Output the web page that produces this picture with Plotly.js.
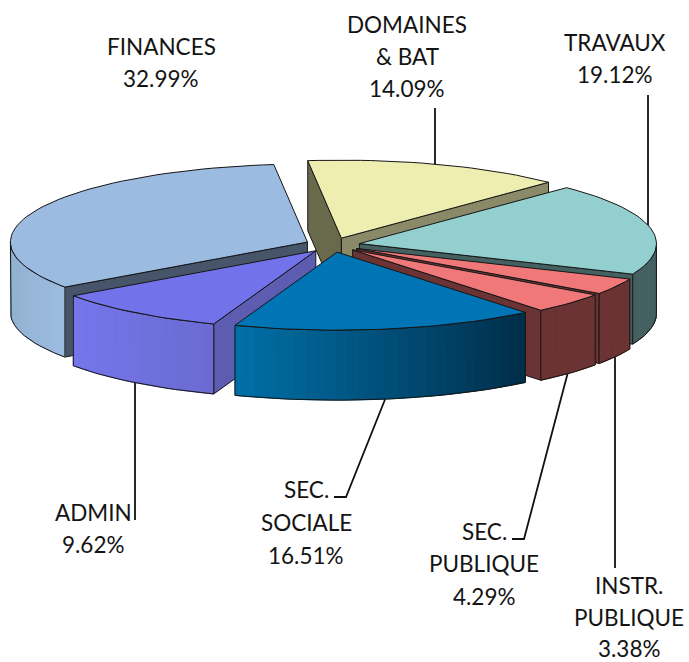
<!DOCTYPE html>
<html>
<head>
<meta charset="utf-8">
<script src="https://cdn.plot.ly/plotly-3.0.1.min.js"></script>
<style>html,body{margin:0;padding:0;background:#fff}#chart{width:689px;height:662px}</style>
</head>
<body>
<div id="chart"></div>
<script>
// Data, in drawing order clockwise from the back of the pie
var names = ['DOMAINES & BAT', 'TRAVAUX', 'INSTR. PUBLIQUE', 'SEC. PUBLIQUE', 'SEC. SOCIALE', 'ADMIN', 'FINANCES'];
var shares = [14.09, 19.12, 3.38, 4.29, 16.51, 9.62, 32.99];

// Colours per slice
var topColors = ['#EEEEB0', '#92CFCE', '#F07878', '#F07878', '#0075B5', '#7272EA', '#9BBBE0'];
var wallStops = [
  ['#8a8a68', '#8a8a68'],
  ['#446060', '#446060'],
  ['#6b3333', '#6b3333'],
  ['#6b3333', '#6b3333'],
  ['#002c48', '#0070A8'],
  ['#6B6BD2', '#7676EC'],
  ['#9BBBE0', '#8FAECB']
];
var startWallColors = ['#696A4C', '#446060', '#6b3333', '#6b3333', '#005a8a', '#5C5CB0', '#46556A'];
var endWallColors = ['#8A8A68', '#446060', '#6b3333', '#6b3333', '#6b3333', '#5C5CB0', '#46556A'];

// Draw order, back to front
var drawOrder = [0, 6, 1, 2, 3, 5, 4];

// Label text lines and where each sits
var labelLines = ['FINANCES','32.99%','DOMAINES','& BAT','14.09%','TRAVAUX','19.12%','ADMIN','9.62%',
  'SEC.','SOCIALE','16.51%','SEC.','PUBLIQUE','4.29%','INSTR.','PUBLIQUE','3.38%'];
var labelX = [161,161,407,407,407,615,615,93,93,306,306,306,484,484,484,629,629,629];
var labelY = [46,78,24,56,88,42,74,512,544,489,522,555,531,563,596,585,617,648];

// Leader lines
var leaderX = [[435,435],[648,648],[615,615],[568,524,512],[386,346,334],[135,135]];
var leaderY = [[108,166],[95,226],[355,568],[372,539,539],[397,497,497],[382,520]];

// Projection
var CX = 332.5, CY = 245, RX = 297, RY = 78, DEPTH = 70, EXPLODE = 0.0925, START = -6.5;

function rad(d) { return d * Math.PI / 180; }
function px(c, r, a) { return c + RX * r * Math.sin(rad(a)); }
function py(c, r, a) { return c - RY * r * Math.cos(rad(a)); }
function hex(c) { return [1, 3, 5].map(function (i) { return parseInt(c.substr(i, 2), 16); }); }
function mix(a, b, t) {
  var A = hex(a), B = hex(b);
  return 'rgb(' + A.map(function (v, i) { return Math.round(v + (B[i] - v) * t); }).join(',') + ')';
}

var traces = [];
function poly(xs, ys, fill, edge, text) {
  traces.push({
    type: 'scatter', mode: 'lines', x: xs, y: ys, fill: fill ? 'toself' : 'none',
    fillcolor: fill || undefined, line: edge, showlegend: false,
    hoverinfo: text ? 'text' : 'skip', text: text || undefined, hoveron: text ? 'fills' : undefined
  });
}

// Leaders first, beneath the pie
leaderX.forEach(function (xs, i) {
  traces.push({ type: 'scatter', mode: 'lines', x: xs, y: leaderY[i], showlegend: false, hoverinfo: 'skip',
    line: { color: '#111111', width: 1.8 } });
});

var EDGE = { color: '#161616', width: 1 };
var total = shares.reduce(function (a, b) { return a + b; }, 0);
var angles = [], running = START;
shares.forEach(function (s) {
  var span = s / total * 360;
  angles.push([running, running + span]);
  running += span;
});

function arc(cx, cy, a0, a1) {
  var n = Math.max(4, Math.round((a1 - a0) / 2)), xs = [], ys = [];
  for (var k = 0; k <= n; k++) {
    var a = a0 + (a1 - a0) * k / n;
    xs.push(px(cx, 1, a));
    ys.push(py(cy, 1, a));
  }
  return { x: xs, y: ys, n: n };
}
function radialWall(cx, cy, a, color) {
  var ex = px(cx, 1, a), ey = py(cy, 1, a);
  poly([cx, ex, ex, cx, cx], [cy, ey, ey + DEPTH, cy + DEPTH, cy], color, EDGE);
}

drawOrder.forEach(function (i) {
  var a0 = angles[i][0], a1 = angles[i][1], mid = (a0 + a1) / 2;
  var cx = px(CX, EXPLODE, mid), cy = py(CY, EXPLODE, mid);

  // radial walls, only where they face the viewer
  if (Math.cos(rad(a0 - 90)) < 0) radialWall(cx, cy, a0, startWallColors[i]);
  if (Math.cos(rad(a1 + 90)) < 0) radialWall(cx, cy, a1, endWallColors[i]);

  // outer wall, only the front half of the rim (90 to 270 degrees)
  var f0 = Math.max(a0, 90), f1 = Math.min(a1, 270);
  if (f1 > f0) {
    var w = arc(cx, cy, f0, f1);
    for (var s = 0; s < w.n; s++) {
      var col = mix(wallStops[i][0], wallStops[i][1], (s + 0.5) / w.n);
      poly([w.x[s], w.x[s + 1], w.x[s + 1], w.x[s], w.x[s]],
           [w.y[s], w.y[s + 1], w.y[s + 1] + DEPTH, w.y[s] + DEPTH, w.y[s]],
           col, { color: col, width: 1 });
    }
    var outX = w.x.concat(w.x.slice().reverse()).concat([w.x[0]]);
    var outY = w.y.concat(w.y.slice().reverse().map(function (v) { return v + DEPTH; })).concat([w.y[0]]);
    poly(outX, outY, null, EDGE);
  }

  // top face
  var t = arc(cx, cy, a0, a1);
  poly([cx].concat(t.x, [cx]), [cy].concat(t.y, [cy]), topColors[i], EDGE, names[i] + ': ' + shares[i].toFixed(2) + '%');
});

var annotations = labelLines.map(function (t, i) {
  return { text: t, x: labelX[i], y: labelY[i], xref: 'x', yref: 'y', showarrow: false,
    xanchor: 'center', yanchor: 'middle', font: { family: 'Lato, sans-serif', size: 22.5, color: '#141414' } };
});

Plotly.newPlot('chart', traces, {
  width: 689, height: 662, margin: { l: 0, r: 0, t: 0, b: 0 },
  paper_bgcolor: '#ffffff', plot_bgcolor: '#ffffff', showlegend: false,
  xaxis: { range: [0, 689], visible: false, fixedrange: true },
  yaxis: { range: [662, 0], visible: false, fixedrange: true },
  annotations: annotations, hovermode: 'closest'
}, { displayModeBar: false });
</script>
</body>
</html>
